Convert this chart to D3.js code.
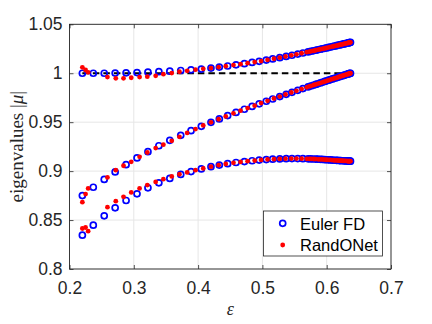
<!DOCTYPE html>
<html><head><meta charset="utf-8">
<script src="https://cdn.jsdelivr.net/npm/d3@7"></script>
<style>body{margin:0;background:#fff}svg{display:block}</style>
</head><body>
<svg id="c" width="432" height="324"></svg>
<script>
const xTicks = [0.2, 0.3, 0.4, 0.5, 0.6, 0.7];
const yTicks = [0.8, 0.85, 0.9, 0.95, 1, 1.05];
const epsEuler = [0.220,0.237,0.254,0.271,0.288,0.305,0.322,0.339,0.356,0.373,0.389,0.405,0.420,0.433,0.446,0.459,0.472,0.484,0.495,0.506,0.516,0.527,0.537,0.546,0.555,0.563,0.571,
  0.575,0.579,0.583,0.586,0.590,0.593,0.597,0.600,0.603,0.606,0.609,0.612,0.615,0.617,0.620,0.622,0.625,0.627,0.629,0.631,0.633,0.634,0.635,0.636,0.637];
const eulerTop = [1.000,1.000,1.000,1.0002,1.0004,1.0007,1.0011,1.0016,1.0021,1.0028,1.0035,1.0043,1.0053,1.0063,1.0074,1.0086,1.0098,1.0110,1.0122,1.0134,1.0146,1.0159,1.0172,1.0184,1.0196,1.0207,1.0218,
  1.0224,1.0229,1.0235,1.0239,1.0245,1.0249,1.0255,1.0259,1.0264,1.0268,1.0273,1.0277,1.0282,1.0285,1.0289,1.0292,1.0297,1.0300,1.0303,1.0306,1.0309,1.0311,1.0312,1.0314,1.0316];
const eulerMid = [0.875,0.8835,0.8915,0.8992,0.9066,0.9135,0.9199,0.9259,0.9315,0.9366,0.9413,0.9458,0.9499,0.9533,0.9567,0.9600,0.9632,0.9661,0.9688,0.9714,0.9737,0.9762,0.9785,0.9805,0.9825,0.9843,0.9860,
  0.9869,0.9877,0.9886,0.9892,0.9901,0.9907,0.9916,0.9922,0.9929,0.9935,0.9942,0.9948,0.9954,0.9958,0.9965,0.9969,0.9975,0.9979,0.9984,0.9988,0.9992,0.9994,0.9996,0.9998,1.000];
const eulerBot = [0.8346,0.8448,0.8543,0.8625,0.8700,0.8768,0.8829,0.8880,0.8925,0.8966,0.8995,0.9022,0.9045,0.9062,0.9076,0.9088,0.9098,0.9106,0.9113,0.9118,0.9122,0.9125,0.9127,0.9128,0.9128,0.9127,0.9126,
  0.9125,0.9124,0.9123,0.9122,0.9120,0.9119,0.9117,0.9116,0.9115,0.9114,0.9112,0.9111,0.9110,0.9109,0.9108,0.9107,0.9106,0.9105,0.9105,0.9104,0.9103,0.9103,0.9102,0.9102,0.9102];
const epsRand = [0.220,0.225,0.229,0.259,0.272,0.284,0.296,0.309,0.321,0.334,0.346,0.359,0.371,0.383,0.396,0.408,0.420,0.432,0.443,0.455,0.466,0.477,0.488,0.498,0.508,0.518,0.527,0.536,0.545,0.553,0.561,0.569,
  0.573,0.576,0.580,0.583,0.587,0.590,0.593,0.596,0.599,0.602,0.605,0.608,0.611,0.613,0.616,0.618,0.620,0.622,0.624,0.626,0.628,0.630,0.632,0.633,0.634,0.635,0.636,0.637];
const randTop = [1.006,1.0033,1.0009,0.9961,0.9948,0.9948,0.9954,0.9961,0.9965,0.9974,0.9990,1.0002,1.0015,1.0025,1.0036,1.0045,1.0053,1.0062,1.0072,1.0083,1.0093,1.0103,1.0114,1.0124,1.0136,1.0148,1.0159,1.0171,1.0183,1.0193,1.0204,1.0215,
  1.0220,1.0225,1.0230,1.0235,1.0241,1.0245,1.0249,1.0253,1.0258,1.0262,1.0267,1.0271,1.0276,1.0279,1.0283,1.0286,1.0289,1.0292,1.0295,1.0298,1.0302,1.0305,1.0308,1.0310,1.0311,1.0313,1.0314,1.0316];
const randMid = [0.8683,0.8765,0.8823,0.8936,0.9010,0.9055,0.9095,0.9146,0.9190,0.9235,0.9270,0.9310,0.9350,0.9390,0.9430,0.9467,0.9499,0.9530,0.9559,0.9590,0.9618,0.9644,0.9669,0.9695,0.9718,0.9742,0.9762,0.9783,0.9803,0.9820,0.9838,0.9856,
  0.9865,0.9871,0.9880,0.9886,0.9894,0.9900,0.9907,0.9913,0.9920,0.9926,0.9933,0.9939,0.9946,0.9950,0.9956,0.9960,0.9965,0.9969,0.9973,0.9977,0.9981,0.9985,0.9989,0.9991,0.9993,0.9995,0.9998,1.000];
const randBot = [0.8414,0.8424,0.8386,0.8632,0.8693,0.8737,0.8782,0.8823,0.8857,0.8890,0.8918,0.8946,0.8968,0.8987,0.9010,0.9028,0.9045,0.9061,0.9073,0.9085,0.9094,0.9102,0.9108,0.9114,0.9119,0.9122,0.9125,0.9127,0.9128,0.9128,0.9127,0.9126,
  0.9126,0.9125,0.9124,0.9123,0.9121,0.9120,0.9119,0.9118,0.9116,0.9115,0.9114,0.9113,0.9111,0.9110,0.9109,0.9108,0.9108,0.9107,0.9106,0.9105,0.9105,0.9104,0.9103,0.9103,0.9102,0.9102,0.9102,0.9102];
const refLineX = [0.220, 0.637];
const refLineY = [1, 1];
const seriesNames = ["Euler FD", "RandONet"];

const svg = d3.select("#c");
const L = 69.5, R = 391, T = 24.3, B = 269;
const x = d3.scaleLinear().domain([0.2, 0.7]).range([L, R]);
const y = d3.scaleLinear().domain([0.8, 1.05]).range([B, T]);
const axCol = "#262626";
const font = "'Liberation Sans', Arial, Helvetica, sans-serif";

// grid
const g = svg.append("g");
g.selectAll(".gx").data(xTicks).enter().append("line")
  .attr("x1", d => x(d)).attr("x2", d => x(d)).attr("y1", T).attr("y2", B)
  .attr("stroke", "#e6e6e6").attr("stroke-width", 1);
g.selectAll(".gy").data(yTicks).enter().append("line")
  .attr("y1", d => y(d)).attr("y2", d => y(d)).attr("x1", L).attr("x2", R)
  .attr("stroke", "#e6e6e6").attr("stroke-width", 1);

// axes with inward ticks
const xAxis = svg.append("g").attr("transform", `translate(0,${B})`)
  .call(d3.axisBottom(x).tickValues(xTicks).tickSizeInner(-4).tickSizeOuter(0).tickPadding(13).tickFormat(d3.format(".1f")));
const xAxisTop = svg.append("g").attr("transform", `translate(0,${T})`)
  .call(d3.axisTop(x).tickValues(xTicks).tickSizeInner(-4).tickSizeOuter(0).tickFormat(""));
const yAxis = svg.append("g").attr("transform", `translate(${L},0)`)
  .call(d3.axisLeft(y).tickValues(yTicks).tickSizeInner(-4).tickSizeOuter(0).tickPadding(7).tickFormat(d => d === 1 ? "1" : d3.format("")(+d.toFixed(2))));
const yAxisR = svg.append("g").attr("transform", `translate(${R},0)`)
  .call(d3.axisRight(y).tickValues(yTicks).tickSizeInner(-4).tickSizeOuter(0).tickFormat(""));
[xAxis, xAxisTop, yAxis, yAxisR].forEach(a => {
  a.select(".domain").remove();
  a.selectAll("line").attr("stroke", axCol).attr("stroke-width", 0.8);
  a.selectAll("text").attr("fill", axCol).style("font-family", font).style("font-size", "17.5px");
});
svg.append("rect").attr("x", L).attr("y", T).attr("width", R - L).attr("height", B - T)
  .attr("fill", "none").attr("stroke", axCol).attr("stroke-width", 0.9);

// dashed reference line
svg.append("line").attr("x1", x(refLineX[0])).attr("x2", x(refLineX[1]))
  .attr("y1", y(refLineY[0])).attr("y2", y(refLineY[1]))
  .attr("stroke", "#000").attr("stroke-width", 2).attr("stroke-dasharray", "6.5,4");

// Euler FD circles
const eulerPts = [];
epsEuler.forEach((e, i) => { eulerPts.push([e, eulerTop[i]], [e, eulerMid[i]], [e, eulerBot[i]]); });
svg.append("g").selectAll("circle").data(eulerPts).enter().append("circle")
  .attr("cx", d => x(d[0])).attr("cy", d => y(d[1])).attr("r", 3.0)
  .attr("fill", "none").attr("stroke", "#0000ff").attr("stroke-width", 1.7);

// RandONet dots
const randPts = [];
epsRand.forEach((e, i) => { randPts.push([e, randTop[i]], [e, randMid[i]], [e, randBot[i]]); });
svg.append("g").selectAll("circle").data(randPts).enter().append("circle")
  .attr("cx", d => x(d[0])).attr("cy", d => y(d[1])).attr("r", 2.4)
  .attr("fill", "#ff0000");

// legend
const lg = svg.append("g");
lg.append("rect").attr("x", 263.5).attr("y", 211).attr("width", 119).attr("height", 45)
  .attr("fill", "#fff").attr("stroke", axCol).attr("stroke-width", 0.8);
lg.append("circle").attr("cx", 282.7).attr("cy", 223.3).attr("r", 3.0)
  .attr("fill", "none").attr("stroke", "#0000ff").attr("stroke-width", 1.7);
lg.append("circle").attr("cx", 282.7).attr("cy", 245).attr("r", 2.4).attr("fill", "#ff0000");
lg.selectAll("text").data(seriesNames).enter().append("text")
  .attr("x", 300).attr("y", (d, i) => 229.5 + i * 21.7)
  .attr("fill", "#000").style("font-family", font).style("font-size", "16.5px").text(d => d);

// axis labels
svg.append("text").attr("transform", `translate(23,${(T + B) / 2}) rotate(-90)`)
  .attr("text-anchor", "middle").attr("fill", axCol)
  .style("font-family", "'Liberation Serif','Times New Roman',serif").style("font-size", "19px")
  .html('eigenvalues |<tspan font-style="italic">μ</tspan>|');
svg.append("text").attr("x", (L + R) / 2).attr("y", 315).attr("text-anchor", "middle").attr("fill", axCol)
  .style("font-family", "'Liberation Serif','DejaVu Serif',serif").style("font-style", "italic").style("font-size", "18px")
  .text("ε");
</script>
</body></html>
